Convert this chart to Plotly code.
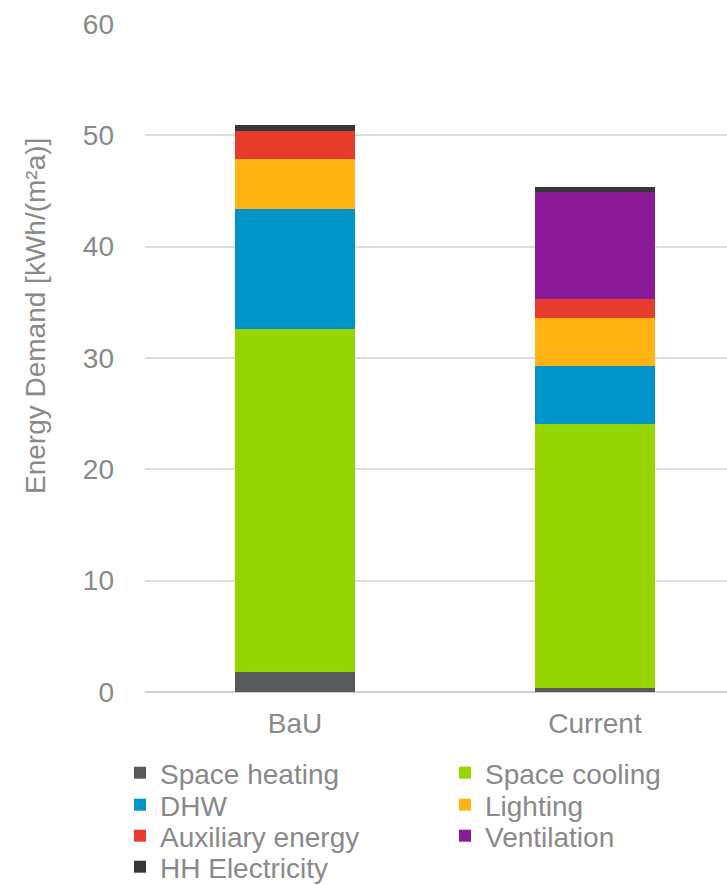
import plotly.graph_objects as go

# Scenarios on the x axis
scenarios = ["BaU", "Current"]

# Energy demand per end use, kWh/(m²a)
space_heating = [1.8, 0.35]
space_cooling = [30.8, 23.7]
dhw = [10.8, 5.25]
lighting = [4.45, 4.3]
auxiliary_energy = [2.55, 1.7]
ventilation = [0.0, 9.6]
hh_electricity = [0.5, 0.5]

series = [
    ("Space heating", space_heating, "#58595B"),
    ("Space cooling", space_cooling, "#96D600"),
    ("DHW", dhw, "#0094C8"),
    ("Lighting", lighting, "#FFB414"),
    ("Auxiliary energy", auxiliary_energy, "#E73C2D"),
    ("Ventilation", ventilation, "#8A1A97"),
    ("HH Electricity", hh_electricity, "#363639"),
]

FONT = "Liberation Sans, Arial, sans-serif"
GREY = "#898989"
W, H = 727, 885
M_L, M_R, M_T, M_B = 145, 0, 24, 193
PLOT_W = W - M_L - M_R
PLOT_H = H - M_T - M_B

# Two-column legend grid: left edge (px) of each column and centre (px) of each row
legend_cols = [120, 445]
legend_rows = [773, 805, 836, 867]


def paper_x(px):
    return (px - M_L) / PLOT_W


def paper_y(py):
    return (H - M_B - py) / PLOT_H


fig = go.Figure()
legend_layouts = {}
for i, (name, values, color) in enumerate(series):
    key = "legend" if i == 0 else f"legend{i + 1}"
    fig.add_trace(go.Bar(
        name=name,
        x=scenarios,
        y=values,
        marker=dict(color=color, line=dict(width=0)),
        width=0.4,
        legend=key,
    ))
    col, row = i % 2, i // 2
    legend_layouts[key] = dict(
        x=paper_x(legend_cols[col]),
        y=paper_y(legend_rows[row]),
        xanchor="left", yanchor="middle",
        orientation="h",
        font=dict(family=FONT, size=28, color=GREY),
        bgcolor="rgba(0,0,0,0)",
        borderwidth=0,
    )

fig.update_layout(
    barmode="stack",
    width=W,
    height=H,
    margin=dict(l=M_L, r=M_R, t=M_T, b=M_B, pad=0, autoexpand=False),
    paper_bgcolor="white",
    plot_bgcolor="white",
    font=dict(family=FONT, size=28, color=GREY),
    showlegend=True,
    xaxis=dict(
        range=[-0.5, 1.44],
        showgrid=False,
        showline=False,
        zeroline=False,
        ticks="",
        tickfont=dict(family=FONT, size=28, color=GREY),
        ticklabelstandoff=12,
    ),
    yaxis=dict(
        range=[0, 60],
        dtick=10,
        showgrid=True,
        gridcolor="#DCDCDC",
        gridwidth=1.5,
        zeroline=True,
        zerolinecolor="#D0D0D0",
        zerolinewidth=2,
        showline=False,
        ticks="",
        tickfont=dict(family=FONT, size=28, color=GREY),
        ticklabelstandoff=30,
    ),
    annotations=[
        dict(
            text="Energy Demand [kWh/(m²a)]",
            xref="paper", yref="paper",
            x=paper_x(35), y=paper_y(316),
            xanchor="center", yanchor="middle",
            textangle=-90,
            showarrow=False,
            font=dict(family=FONT, size=28, color=GREY),
        )
    ],
    **legend_layouts,
)

fig.write_html("out.html")
